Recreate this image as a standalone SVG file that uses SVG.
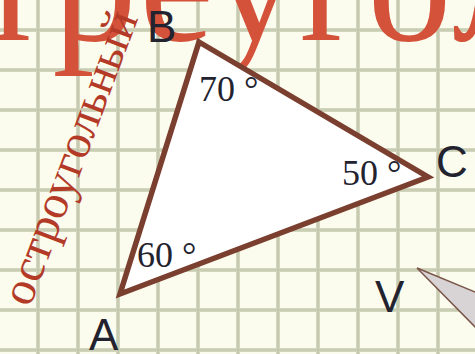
<svg xmlns="http://www.w3.org/2000/svg" width="475" height="354" viewBox="0 0 475 354">
<defs>
<style>
.grid line{stroke:#d3d6bf;stroke-width:4}
.gridc line{stroke:#c0c3a6;stroke-width:1.2}
.lbl{font-family:"Liberation Sans",Arial,sans-serif;font-size:44px;fill:#23232f}
.ang{font-family:"Liberation Serif","Times New Roman",serif;font-size:36px;fill:#23232f}
</style>
</defs>
<rect width="475" height="354" fill="#fbfcee"/>
<g id="grid">
<g class="grid">
<line x1="38" y1="0" x2="38" y2="354"/><line x1="78" y1="0" x2="78" y2="354"/><line x1="118" y1="0" x2="118" y2="354"/><line x1="158" y1="0" x2="158" y2="354"/><line x1="198" y1="0" x2="198" y2="354"/><line x1="238" y1="0" x2="238" y2="354"/><line x1="278" y1="0" x2="278" y2="354"/><line x1="318" y1="0" x2="318" y2="354"/><line x1="358" y1="0" x2="358" y2="354"/><line x1="398" y1="0" x2="398" y2="354"/><line x1="438" y1="0" x2="438" y2="354"/>
<line x1="0" y1="30" x2="475" y2="30"/><line x1="0" y1="70" x2="475" y2="70"/><line x1="0" y1="110" x2="475" y2="110"/><line x1="0" y1="150" x2="475" y2="150"/><line x1="0" y1="190" x2="475" y2="190"/><line x1="0" y1="230" x2="475" y2="230"/><line x1="0" y1="270" x2="475" y2="270"/><line x1="0" y1="310" x2="475" y2="310"/><line x1="0" y1="350" x2="475" y2="350"/>
</g>
<g class="gridc">
<line x1="38" y1="0" x2="38" y2="354"/><line x1="78" y1="0" x2="78" y2="354"/><line x1="118" y1="0" x2="118" y2="354"/><line x1="158" y1="0" x2="158" y2="354"/><line x1="198" y1="0" x2="198" y2="354"/><line x1="238" y1="0" x2="238" y2="354"/><line x1="278" y1="0" x2="278" y2="354"/><line x1="318" y1="0" x2="318" y2="354"/><line x1="358" y1="0" x2="358" y2="354"/><line x1="398" y1="0" x2="398" y2="354"/><line x1="438" y1="0" x2="438" y2="354"/>
<line x1="0" y1="30" x2="475" y2="30"/><line x1="0" y1="70" x2="475" y2="70"/><line x1="0" y1="110" x2="475" y2="110"/><line x1="0" y1="150" x2="475" y2="150"/><line x1="0" y1="190" x2="475" y2="190"/><line x1="0" y1="230" x2="475" y2="230"/><line x1="0" y1="270" x2="475" y2="270"/><line x1="0" y1="310" x2="475" y2="310"/><line x1="0" y1="350" x2="475" y2="350"/>
</g>
</g>
<text id="title" x="-26" y="40" font-family="'Liberation Serif','Times New Roman',serif" font-size="168" letter-spacing="3" fill="#d4523a">треугольник</text>
<text id="subtitle" transform="translate(30,308) rotate(-69.5)" font-family="'Liberation Serif','Times New Roman',serif" font-size="48" fill="#b43a28">остроугольный</text>
<g id="triangle">
<polygon points="199,42 428,177 120,294" fill="#ffffff" stroke="#7a3f2f" stroke-width="5.5" stroke-linejoin="miter"/>
</g>
<g id="angleB"><text class="ang" x="199" y="101">70 °</text></g>
<g id="angleC"><text class="ang" x="342" y="185">50 °</text></g>
<g id="angleA"><text class="ang" x="137" y="267">60 °</text></g>
<g id="labelB"><text class="lbl" x="147" y="42">B</text></g>
<g id="labelC"><text class="lbl" x="436" y="177">C</text></g>
<g id="labelA"><text class="lbl" x="89" y="350">A</text></g>
<g id="labelV"><text class="lbl" x="375" y="312">V</text></g>
<g id="shapeV">
<polygon points="417,268 480,294 480,332" fill="#d8d4d6" stroke="#7a5548" stroke-width="1.5"/>
</g>
</svg>
